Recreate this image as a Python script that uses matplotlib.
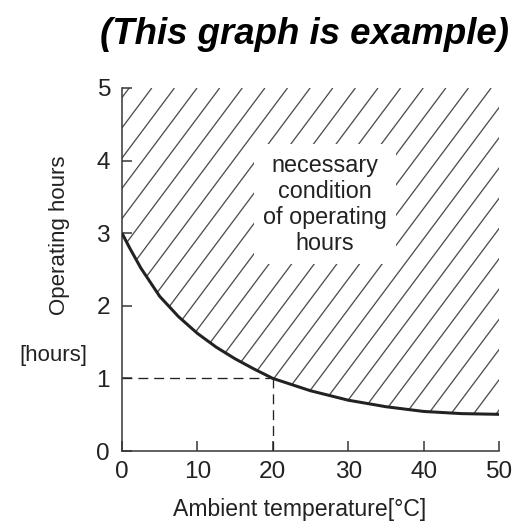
import matplotlib
matplotlib.use('Agg')
import numpy as np
import matplotlib.pyplot as plt
from matplotlib.collections import LineCollection

# curve: ambient temperature [C] -> operating hours
temp = [0, 1, 2.5, 5, 7.5, 10, 12.5, 15, 17.5, 20, 25, 30, 35, 40, 45, 50]
hours = [3.0, 2.8, 2.52, 2.13, 1.85, 1.62, 1.43, 1.27, 1.13, 1.0,
         0.83, 0.70, 0.61, 0.545, 0.515, 0.505]

# example reading marked with dashed guides
ref_temp = 20
ref_hours = 1

xticks = [0, 10, 20, 30, 40, 50]
yticks = [0, 1, 2, 3, 4, 5]

plt.rcParams['font.family'] = ['Liberation Sans', 'DejaVu Sans']

DPI = 136
fig = plt.figure(figsize=(520 / DPI, 528 / DPI), dpi=DPI)
ax = fig.add_axes([122 / 520, 77 / 528, 377 / 520, 363 / 528])

txt = '#222222'
XMAX, YMAX = 50, 5

# region above the curve, hatched with steep thin lines
region = ax.fill_between(temp, hours, YMAX, facecolor='none',
                         edgecolor='none', linewidth=0)
step = 3.0        # hatch spacing along the top edge (data units)
run = 36.0        # x run of one hatch line from bottom to top
segs = [[(x0 - run, 0), (x0, YMAX)] for x0 in np.arange(0.95, XMAX + run, step)]
lc = LineCollection(segs, colors='#505050', linewidths=0.7, zorder=1)
ax.add_collection(lc)
lc.set_clip_path(region.get_paths()[0], ax.transData)

ax.plot(temp, hours, color='#222222', linewidth=1.6,
        solid_joinstyle='round', solid_capstyle='butt', zorder=3)

dash = (0, (7.5, 4.5))
ax.plot([0, ref_temp], [ref_hours, ref_hours], color='#222222',
        linewidth=0.7, linestyle=dash, zorder=2)
ax.plot([ref_temp, ref_temp], [ref_hours, 0], color='#222222',
        linewidth=0.7, linestyle=dash, zorder=2)

ax.text(26.9, 3.4, 'necessary\ncondition\nof operating\nhours',
        ha='center', va='center', fontsize=12.4, color=txt,
        linespacing=1.17, zorder=4,
        bbox=dict(facecolor='white', edgecolor='none', pad=5))

ax.set_xlim(0, XMAX)
ax.set_ylim(0, YMAX)
ax.set_xticks(xticks)
ax.set_yticks(yticks)
ax.tick_params(direction='in', length=5.3, width=0.8, color='#333333',
               labelsize=12.9, labelcolor=txt)
ax.tick_params(axis='x', pad=5.5)
ax.tick_params(axis='y', pad=6.3)

for s in ['top', 'right']:
    ax.spines[s].set_visible(False)
for s in ['left', 'bottom']:
    ax.spines[s].set_color('#333333')
    ax.spines[s].set_linewidth(0.8)

ax.set_xlabel('Ambient temperature[°C]', fontsize=12.2, color=txt)
ax.xaxis.set_label_coords((300 - 122) / 377, (451 - 498) / 363)
ax.set_ylabel('Operating hours', fontsize=11.8, color=txt, va='center')
ax.yaxis.set_label_coords((60 - 122) / 377, (451 - 235) / 363)

fig.text(53 / 520, 1 - 355 / 528, '[hours]', ha='center', va='center',
         fontsize=11.8, color=txt)
fig.text(305 / 520, 1 - 34 / 528, '(This graph is example)', ha='center',
         va='center', fontsize=19.4, fontweight='bold', fontstyle='italic',
         color='black')

fig.savefig('out.png', dpi=DPI)
